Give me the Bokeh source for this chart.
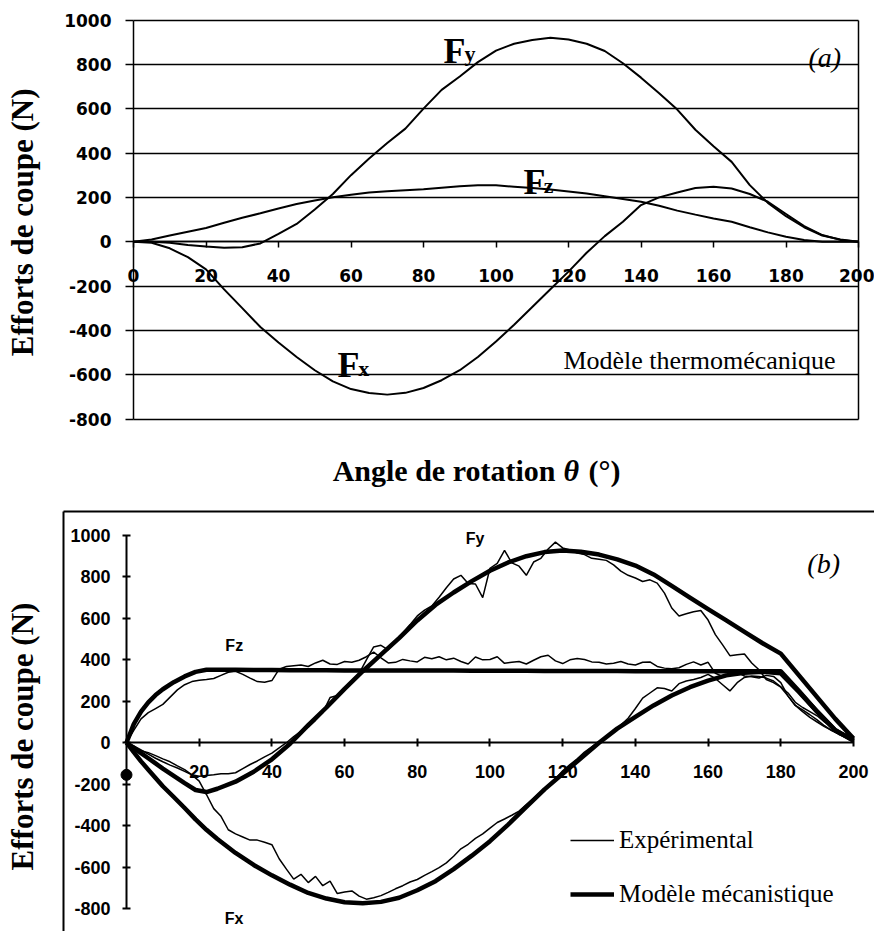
import math
from bokeh.plotting import figure
from bokeh.models import Range1d, FixedTicker, Label, Legend, LegendItem, LinearAxis
from bokeh.layouts import column
from bokeh.embed import file_html
from bokeh.resources import INLINE

# ---------------- data: panel (a) thermomechanical model ----------------
theta_a = [0, 5, 10, 15, 20, 25, 30, 35, 40, 45, 50, 55, 60, 65, 70, 75, 80, 85, 90, 95,
           100, 105, 110, 115, 120, 125, 130, 135, 140, 145, 150, 155, 160, 165, 170, 175,
           180, 185, 190, 195, 200]
fx_a = [0, -5, -30, -70, -125, -215, -300, -385, -455, -520, -580, -630, -665, -683, -690,
        -682, -660, -625, -580, -520, -450, -375, -295, -215, -135, -50, 25, 90, 165, 200,
        222, 242, 248, 240, 215, 180, 125, 70, 30, 8, 0]
fy_a = [0, 0, -5, -15, -22, -27, -25, -8, 35, 80, 145, 215, 300, 375, 445, 510, 600, 685,
        745, 810, 862, 893, 910, 920, 912, 893, 860, 805, 740, 670, 596, 505, 430, 360, 255,
        175, 115, 65, 28, 10, 0]
fz_a = [0, 10, 28, 45, 62, 85, 108, 128, 150, 170, 186, 200, 212, 222, 228, 232, 236, 243,
        250, 255, 254, 248, 242, 235, 226, 217, 205, 193, 180, 162, 140, 122, 105, 90, 65,
        42, 22, 8, 0, 0, 0]
xticks_a = [0, 20, 40, 60, 80, 100, 120, 140, 160, 180, 200]
yticks = [-800, -600, -400, -200, 0, 200, 400, 600, 800, 1000]
ytick_labels = ["-800", "-600", "-400", "-200", "0", "200", "400", "600", "800", "1000"]

# ---------------- data: panel (b) mechanistic model ----------------
theta_m = [0, 2, 4, 6, 8, 10, 13, 16, 19, 22, 25, 30, 35, 40, 45, 50, 55, 60, 65, 70, 75, 80,
           85, 90, 95, 100, 105, 110, 115, 120, 125, 130, 135, 140, 145, 150, 155, 160, 165,
           170, 175, 180, 185, 190, 195, 200]
fx_m = [0, -45, -90, -130, -170, -210, -262, -315, -370, -420, -465, -532, -590, -640, -685,
        -725, -752, -770, -775, -768, -748, -712, -668, -610, -545, -475, -395, -310, -225,
        -150, -75, 0, 68, 125, 180, 228, 268, 300, 325, 338, 342, 335, 245, 150, 60, 10]
fy_m = [0, -25, -50, -75, -100, -125, -160, -195, -228, -238, -222, -188, -140, -80, -5, 85,
        170, 260, 345, 425, 505, 590, 665, 725, 780, 830, 870, 900, 920, 928, 922, 908, 885,
        855, 812, 757, 700, 645, 590, 535, 480, 430, 325, 220, 115, 20]
fz_m = [0, 90, 150, 195, 230, 258, 292, 320, 342, 352, 352, 352, 351, 351, 350, 350, 350, 349,
        349, 349, 348, 348, 348, 348, 347, 347, 347, 347, 346, 346, 346, 346, 346, 345, 345,
        345, 345, 345, 345, 345, 345, 345, 250, 150, 60, 10]

# ---------------- data: panel (b) experimental ----------------
theta_e = [0, 2, 4, 6, 8, 10, 12, 14, 16, 18, 20, 22, 24, 26, 28, 30, 32, 34, 36, 38, 40, 42,
           44, 46, 48, 50, 52, 54, 56, 58, 60, 62, 64, 66, 68, 70, 72, 74, 76, 78, 80, 82, 84,
           86, 88, 90, 92, 94, 96, 98, 100, 102, 104, 106, 108, 110, 112, 114, 116, 118, 120,
           122, 124, 126, 128, 130, 132, 134, 136, 138, 140, 142, 144, 146, 148, 150, 152, 154,
           156, 158, 160, 162, 164, 166, 168, 170, 172, 174, 176, 178, 180, 182, 184, 186, 188,
           190, 192, 194, 196, 198, 200]
fz_e = [0, 60, 115, 145, 165, 185, 220, 255, 280, 295, 302, 305, 310, 325, 340, 345, 330, 312,
        295, 292, 300, 355, 368, 372, 375, 368, 385, 398, 380, 378, 392, 388, 398, 415, 437, 410,
        385, 388, 402, 395, 390, 412, 405, 415, 400, 408, 392, 380, 414, 400, 402, 415, 383, 388,
        392, 380, 398, 415, 422, 395, 382, 400, 406, 402, 390, 388, 380, 384, 392, 380, 375, 388,
        390, 368, 360, 357, 362, 378, 390, 375, 388, 335, 320, 332, 340, 322, 318, 312, 325, 320,
        290, 225, 180, 158, 135, 110, 82, 58, 40, 25, 15]
fy_e = [0, -15, -35, -55, -75, -92, -108, -122, -138, -155, -162, -158, -155, -150, -150, -145,
        -125, -105, -88, -68, -50, -25, 0, 30, 55, 75, 108, 145, 218, 228, 262, 300, 335, 400,
        462, 470, 448, 490, 530, 570, 612, 640, 660, 702, 748, 790, 808, 768, 766, 700, 842, 866,
        928, 868, 852, 808, 872, 890, 935, 968, 940, 930, 915, 908, 890, 885, 880, 858, 828, 808,
        795, 778, 786, 770, 722, 650, 612, 622, 632, 638, 592, 522, 472, 420, 425, 428, 385, 352,
        305, 290, 268, 225, 180, 150, 122, 100, 78, 60, 45, 35, 25]
fx_e = [0, -20, -38, -48, -62, -78, -92, -112, -130, -155, -185, -250, -318, -355, -420, -440,
        -455, -470, -470, -480, -492, -560, -610, -658, -635, -675, -645, -690, -668, -728, -720,
        -715, -740, -755, -748, -738, -722, -705, -690, -672, -660, -640, -622, -603, -580, -548,
        -512, -490, -462, -440, -412, -385, -368, -350, -330, -298, -268, -238, -212, -175, -135,
        -105, -78, -45, -20, 5, 25, 52, 85, 118, 165, 215, 240, 265, 262, 250, 285, 298, 305, 315,
        330, 310, 280, 250, 290, 315, 322, 320, 312, 298, 270, 240, 195, 170, 150, 130, 100, 75,
        55, 40, 30]
exp_start_theta = [0]
exp_start_f = [-155]
xticks_b = [20, 40, 60, 80, 100, 120, 140, 160, 180, 200]

SERIF = "Liberation Serif"
W = 874
HA = 498
HB = 433


def style_axis(ax, font, size, tick_in, tick_out, standoff, lw):
    ax.axis_line_color = "black"
    ax.axis_line_width = lw
    ax.major_tick_line_color = "black"
    ax.major_tick_line_width = lw
    ax.minor_tick_line_color = None
    ax.major_tick_in = tick_in
    ax.major_tick_out = tick_out
    ax.major_label_text_font = font
    ax.major_label_text_font_style = "bold"
    ax.major_label_text_font_size = size
    ax.major_label_text_color = "black"
    ax.major_label_standoff = standoff


def plain_line_axis(p, side, loc, bounds, lw):
    ax = LinearAxis(fixed_location=loc, bounds=bounds, ticker=FixedTicker(ticks=[]),
                    axis_line_color="black", axis_line_width=lw,
                    major_tick_line_color=None, minor_tick_line_color=None)
    p.add_layout(ax, side)


def lab(p, x, y, text, size, style="bold", font=SERIF, align="left", baseline="alphabetic", angle=0.0):
    p.add_layout(Label(x=x, y=y, text=text, text_font=font, text_font_style=style,
                       text_font_size=size, text_color="black", text_align=align,
                       text_baseline=baseline, angle=angle))


# ======================= panel (a) =======================
pa = figure(width=W, height=HA, x_range=Range1d(-36.69, 204.41), y_range=Range1d(-1158.6, 1088.0),
            output_backend="svg", toolbar_location=None, min_border=0,
            min_border_left=0, min_border_right=0, min_border_top=0, min_border_bottom=0)
pa.outline_line_color = None
pa.xgrid.visible = False
pa.xaxis.fixed_location = 0
pa.yaxis.fixed_location = 0
pa.xaxis.bounds = (0, 200)
pa.yaxis.bounds = (-800, 1000)
pa.xaxis.ticker = FixedTicker(ticks=xticks_a)
pa.yaxis.ticker = FixedTicker(ticks=yticks)
pa.yaxis.major_label_overrides = {float(t): s for t, s in zip(yticks, ytick_labels)}
style_axis(pa.xaxis[0], "DejaVu Sans", "17px", 0, 6, 21, 1.5)
style_axis(pa.yaxis[0], "DejaVu Sans", "17px", 0, 8, 14, 1.5)
plain_line_axis(pa, "right", 200, (-800, 1000), 1.5)

g = pa.ygrid[0]
g.ticker = FixedTicker(ticks=yticks)
g.grid_line_color = "black"
g.grid_line_width = 1.5
g.grid_line_alpha = 1.0
if "cross_bounds" in g.properties():
    g.cross_bounds = (0, 200)
else:
    g.visible = False
    pa.segment(x0=[xticks_a[0]] * len(yticks), y0=yticks, x1=[xticks_a[-1]] * len(yticks),
               y1=yticks, line_color="black", line_width=1.5)

for ys in (fx_a, fy_a, fz_a):
    pa.line(theta_a, ys, line_color="black", line_width=2)

lab(pa, 85.5, 862, "F", "36px")
lab(pa, 91.3, 851, "y", "22px")
lab(pa, 107.6, 267, "F", "36px")
lab(pa, 113.2, 254, "z", "22px")
lab(pa, 56.3, -558, "F", "36px")
lab(pa, 62.0, -572, "x", "22px")
lab(pa, 186.2, 831, "(a)", "28px", style="italic")
lab(pa, 118.6, -536, "Modèle thermomécanique", "26px", style="normal")
lab(pa, -30.6, 87, "Efforts de coupe (N)", "31px", align="center", baseline="middle", angle=math.pi / 2)
lab(pa, 116.4, -1032, "Angle de rotation", "30px", align="right")
lab(pa, 118.6, -1032, "θ", "30px", style="bold italic")
lab(pa, 125.5, -1032, "(°)", "30px")

# ======================= panel (b) =======================
pb = figure(width=W, height=HB, x_range=Range1d(-34.66, 205.78), y_range=Range1d(-911.0, 1178.6),
            output_backend="svg", toolbar_location=None, min_border=0,
            min_border_left=0, min_border_right=0, min_border_top=0, min_border_bottom=0)
pb.outline_line_color = None
pb.grid.visible = False
pb.xaxis.fixed_location = 0
pb.yaxis.fixed_location = 0
pb.xaxis.bounds = (0, 200)
pb.yaxis.bounds = (-800, 1000)
pb.xaxis.ticker = FixedTicker(ticks=xticks_b)
pb.yaxis.ticker = FixedTicker(ticks=yticks)
pb.yaxis.major_label_overrides = {float(t): s for t, s in zip(yticks, ytick_labels)}
style_axis(pb.xaxis[0], "Liberation Sans", "18px", 4, 4, 18, 2)
style_axis(pb.yaxis[0], "Liberation Sans", "18px", 4, 4, 12, 2)
# box around panel (b): top and left edges
plain_line_axis(pb, "above", 1115.8, (-17.33, 210), 2)
plain_line_axis(pb, "left", -17.33, (-1000, 1115.8), 2)

exp_r = []
for ys in (fz_e, fy_e, fx_e):
    exp_r.append(pb.line(theta_e, ys, line_color="black", line_width=1.5))
pb.scatter(exp_start_theta, exp_start_f, size=11, color="black")
mod_r = []
for ys in (fz_m, fy_m, fx_m):
    mod_r.append(pb.line(theta_m, ys, line_color="black", line_width=4.5, line_join="round"))

legend = Legend(items=[LegendItem(label="Expérimental", renderers=[exp_r[0]]),
                       LegendItem(label="Modèle mécanistique", renderers=[mod_r[0]])],
                location=(570, 23), orientation="vertical",
                label_text_font=SERIF, label_text_font_size="25px", label_text_color="black",
                glyph_width=44, glyph_height=28, label_height=28, spacing=26,
                label_standoff=5, padding=0, margin=0, border_line_color=None,
                background_fill_alpha=0)
pb.add_layout(legend)

lab(pb, 27.2, 469, "Fz", "16px", font="Liberation Sans", baseline="middle")
lab(pb, 93.3, 985, "Fy", "16px", font="Liberation Sans", baseline="middle")
lab(pb, 27.0, -848, "Fx", "16px", font="Liberation Sans", baseline="middle")
lab(pb, 187.3, 865, "(b)", "28px", style="italic", baseline="middle")
lab(pb, -28.6, 30, "Efforts de coupe (N)", "31px", align="center", baseline="middle", angle=math.pi / 2)

layout = column(pa, pb)
open("out.html", "w").write(file_html(layout, INLINE))
